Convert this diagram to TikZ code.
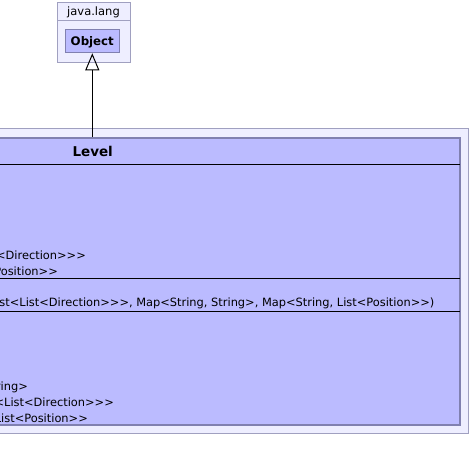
\documentclass[tikz,border=0pt]{standalone}
\usepackage{fontspec}
\setmainfont{DejaVu Sans}[Ligatures=TeXOff]
\usetikzlibrary{arrows.meta}
\definecolor{pkgfill}{RGB}{238,238,255}
\definecolor{pkgline}{RGB}{160,160,192}
\definecolor{clsfill}{RGB}{187,187,255}
\definecolor{clsline}{RGB}{128,128,176}
\tikzset{
  pkgbox/.style={draw=pkgline, fill=pkgfill, line width=1pt, inner sep=0pt},
  clsbox/.style={draw=clsline, fill=clsfill, line width=1pt, inner sep=0pt},
  sepline/.style={draw=black, line width=1pt},
  member/.style={anchor=base east, inner sep=0pt, font=\fontsize{11.4}{13}\selectfont},
  inherit/.style={draw=black, line width=1pt, -{Triangle[open, length=17pt, width=14pt, line width=1pt]}}
}
\begin{document}
\begin{tikzpicture}[x=1pt,y=-1pt]
\useasboundingbox (0,0) rectangle (471,471);
\clip (0,0) rectangle (471,471);
% java.lang package
\node[pkgbox, minimum width=73pt, minimum height=60pt] (pkgjava) at (93.5,32) {};
\draw[pkgline, line width=1pt] (57,20) -- (130,20);
\node[anchor=base, inner sep=0pt, font=\fontsize{11.5}{13}\selectfont] (pkgjavaname) at (93.5,16) {java.lang};
\node[clsbox, minimum width=54pt, minimum height=23.5pt] (obj) at (92.3,41) {};
\node[anchor=base, inner sep=0pt, font=\bfseries\fontsize{11.8}{13}\selectfont] (objname) at (92.3,45.5) {Object};
% outer package of Level
\node[pkgbox, minimum width=751pt, minimum height=305pt] (pkglevel) at (92.5,280.5) {};
% Level class
\node[clsbox, line width=1.5pt, minimum width=735.4pt, minimum height=287pt] (level) at (92.3,281.5) {};
\node[anchor=base, inner sep=0pt, font=\bfseries\fontsize{13.5}{15}\selectfont] (levelname) at (92.7,156.5) {Level};
\draw[sepline] (-300,164.3) coordinate (s1a) -- (459.5,164.3) coordinate (s1b);
\draw[sepline] (-300,278.6) coordinate (s2a) -- (459.5,278.6) coordinate (s2b);
\draw[sepline] (-300,311.8) coordinate (s3a) -- (459.5,311.8) coordinate (s3b);
% fields
\node[member] (f1) at (86,259) {<Direction>>>};
\node[member] (f2) at (58,275) {Position>>};
% constructor
\node[member] (c1) at (434.5,306.8) {st<List<Direction>>>, Map<String, String>, Map<String, List<Position>>)};
% methods
\node[member] (m1) at (28,390.7) {ring>};
\node[member] (m2) at (114,406.7) {<List<Direction>>>};
\node[member] (m3) at (88,422) {List<Position>>};
% generalization
\draw[inherit] (level.north) -- (obj.south);
\end{tikzpicture}
\end{document}
